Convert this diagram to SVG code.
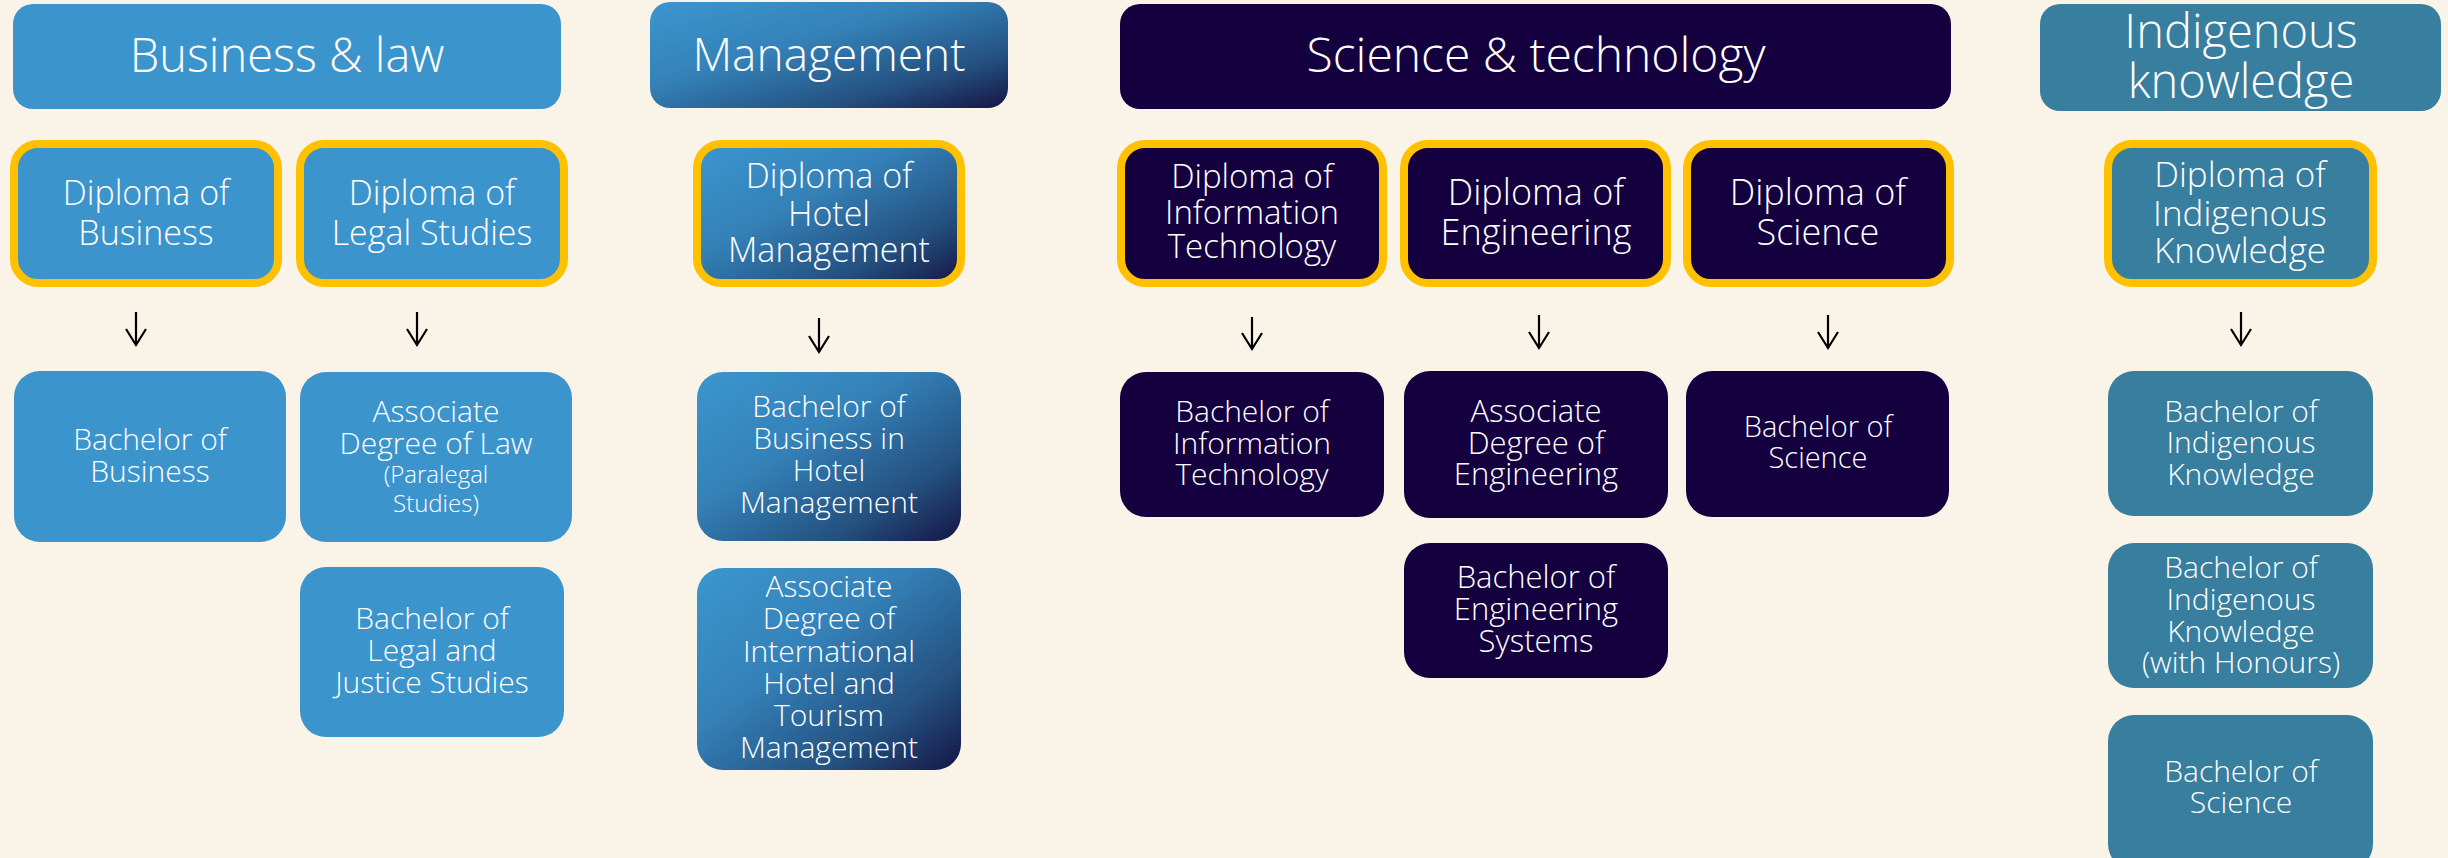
<svg xmlns="http://www.w3.org/2000/svg" width="2448" height="858" viewBox="0 0 2448 858">
<defs>
<linearGradient id="mg" x1="0" y1="0" x2="1" y2="1">
<stop offset="0" stop-color="#3c96cf"/>
<stop offset="0.4" stop-color="#3481b8"/>
<stop offset="0.75" stop-color="#24507f"/>
<stop offset="1" stop-color="#151545"/>
</linearGradient>
<marker id="ah" markerWidth="24" markerHeight="24" refX="20" refY="12" orient="auto" markerUnits="userSpaceOnUse" viewBox="0 0 24 24">
<path d="M4 2 L20 12 L4 22" fill="none" stroke="#000" stroke-width="2.2"/>
</marker>
<style>
.bl{fill:#3c94cd}
.mg{fill:url(#mg)}
.dk{fill:#14003f}
.tl{fill:#387e9e}
.dip{stroke:#ffc000;stroke-width:8}
text{fill:#ffffff;font-family:"Open Sans","Noto Sans","Liberation Sans",sans-serif;text-anchor:middle;font-weight:300}
.h{font-size:46px}
.d{font-size:34px}
.b{font-size:30px}
.s{font-size:24px}
.conn line{stroke:#000;stroke-width:2.2}
</style>
</defs>
<rect x="0" y="0" width="2448" height="858" fill="#faf3e8"/>

<!-- Headers -->
<g id="h-business">
<rect class="bl" x="13" y="4" width="548" height="105" rx="20"/>
<text class="h" x="287" y="72" style="font-size:47px">Business &amp; law</text>
</g>
<g id="h-management">
<rect class="mg" x="650" y="2" width="358" height="106" rx="20"/>
<text class="h" x="829" y="71">Management</text>
</g>
<g id="h-science">
<rect class="dk" x="1120" y="4" width="831" height="105" rx="20"/>
<text class="h" x="1536" y="72" style="font-size:48px">Science &amp; technology</text>
</g>
<g id="h-indigenous">
<rect class="tl" x="2040" y="4" width="401" height="107" rx="20"/>
<text class="h" style="font-size:47px"><tspan x="2241" y="48">Indigenous</tspan><tspan x="2241" y="98">knowledge</tspan></text>
</g>

<!-- Diplomas -->
<g id="d-business">
<rect class="bl dip" x="14" y="144" width="264" height="139" rx="24"/>
<text class="d"><tspan x="146" y="205">Diploma of</tspan><tspan x="146" y="245">Business</tspan></text>
</g>
<g id="d-legal">
<rect class="bl dip" x="300" y="144" width="264" height="139" rx="24"/>
<text class="d"><tspan x="432" y="205">Diploma of</tspan><tspan x="432" y="245">Legal Studies</tspan></text>
</g>
<g id="d-hotel">
<rect class="mg dip" x="697" y="144" width="264" height="139" rx="24"/>
<text class="d"><tspan x="829" y="188">Diploma of</tspan><tspan x="829" y="226">Hotel</tspan><tspan x="829" y="262">Management</tspan></text>
</g>
<g id="d-it">
<rect class="dk dip" x="1121" y="144" width="262" height="139" rx="24"/>
<text class="d" style="font-size:33px"><tspan x="1252" y="188">Diploma of</tspan><tspan x="1252" y="224">Information</tspan><tspan x="1252" y="258">Technology</tspan></text>
</g>
<g id="d-eng">
<rect class="dk dip" x="1404" y="144" width="263" height="139" rx="24"/>
<text class="d" style="font-size:36px"><tspan x="1536" y="205">Diploma of</tspan><tspan x="1536" y="245">Engineering</tspan></text>
</g>
<g id="d-sci">
<rect class="dk dip" x="1687" y="144" width="263" height="139" rx="24"/>
<text class="d" style="font-size:36px"><tspan x="1818" y="205">Diploma of</tspan><tspan x="1818" y="245">Science</tspan></text>
</g>
<g id="d-ik">
<rect class="tl dip" x="2108" y="144" width="265" height="139" rx="24"/>
<text class="d" style="font-size:35px"><tspan x="2240" y="187">Diploma of</tspan><tspan x="2240" y="226">Indigenous</tspan><tspan x="2240" y="263">Knowledge</tspan></text>
</g>

<!-- Connectors -->
<g id="connectors" class="conn">
<line x1="136" y1="312" x2="136" y2="345" marker-end="url(#ah)"/>
<line x1="417" y1="312" x2="417" y2="345" marker-end="url(#ah)"/>
<line x1="819" y1="318" x2="819" y2="352" marker-end="url(#ah)"/>
<line x1="1252" y1="317" x2="1252" y2="349" marker-end="url(#ah)"/>
<line x1="1539" y1="315" x2="1539" y2="348" marker-end="url(#ah)"/>
<line x1="1828" y1="315" x2="1828" y2="348" marker-end="url(#ah)"/>
<line x1="2241" y1="312" x2="2241" y2="345" marker-end="url(#ah)"/>
</g>

<!-- Degrees -->
<g id="b-business">
<rect class="bl" x="14" y="371" width="272" height="171" rx="26"/>
<text class="b"><tspan x="150" y="450">Bachelor of</tspan><tspan x="150" y="482">Business</tspan></text>
</g>
<g id="ad-law">
<rect class="bl" x="300" y="372" width="272" height="170" rx="26"/>
<text class="b"><tspan x="436" y="422">Associate</tspan><tspan x="436" y="454">Degree of Law</tspan><tspan class="s" x="436" y="483">(Paralegal</tspan><tspan class="s" x="436" y="512">Studies)</tspan></text>
</g>
<g id="b-legal">
<rect class="bl" x="300" y="567" width="264" height="170" rx="26"/>
<text class="b"><tspan x="432" y="629">Bachelor of</tspan><tspan x="432" y="661">Legal and</tspan><tspan x="432" y="693">Justice Studies</tspan></text>
</g>
<g id="b-hotel">
<rect class="mg" x="697" y="372" width="264" height="169" rx="26"/>
<text class="b"><tspan x="829" y="417">Bachelor of</tspan><tspan x="829" y="449">Business in</tspan><tspan x="829" y="481">Hotel</tspan><tspan x="829" y="513">Management</tspan></text>
</g>
<g id="ad-hotel">
<rect class="mg" x="697" y="568" width="264" height="202" rx="26"/>
<text class="b"><tspan x="829" y="597">Associate</tspan><tspan x="829" y="629">Degree of</tspan><tspan x="829" y="662">International</tspan><tspan x="829" y="694">Hotel and</tspan><tspan x="829" y="726">Tourism</tspan><tspan x="829" y="758">Management</tspan></text>
</g>
<g id="b-it">
<rect class="dk" x="1120" y="372" width="264" height="145" rx="26"/>
<text class="b"><tspan x="1252" y="422">Bachelor of</tspan><tspan x="1252" y="454">Information</tspan><tspan x="1252" y="485">Technology</tspan></text>
</g>
<g id="ad-eng">
<rect class="dk" x="1404" y="371" width="264" height="147" rx="26"/>
<text class="b" style="font-size:31px"><tspan x="1536" y="422">Associate</tspan><tspan x="1536" y="454">Degree of</tspan><tspan x="1536" y="485">Engineering</tspan></text>
</g>
<g id="b-engsys">
<rect class="dk" x="1404" y="543" width="264" height="135" rx="26"/>
<text class="b" style="font-size:31px"><tspan x="1536" y="588">Bachelor of</tspan><tspan x="1536" y="620">Engineering</tspan><tspan x="1536" y="652">Systems</tspan></text>
</g>
<g id="b-sci">
<rect class="dk" x="1686" y="371" width="263" height="146" rx="26"/>
<text class="b" style="font-size:29px"><tspan x="1818" y="437">Bachelor of</tspan><tspan x="1818" y="468">Science</tspan></text>
</g>
<g id="b-ik">
<rect class="tl" x="2108" y="371" width="265" height="145" rx="26"/>
<text class="b"><tspan x="2241" y="422">Bachelor of</tspan><tspan x="2241" y="453">Indigenous</tspan><tspan x="2241" y="485">Knowledge</tspan></text>
</g>
<g id="b-ik-hons">
<rect class="tl" x="2108" y="543" width="265" height="145" rx="26"/>
<text class="b"><tspan x="2241" y="578">Bachelor of</tspan><tspan x="2241" y="610">Indigenous</tspan><tspan x="2241" y="642">Knowledge</tspan><tspan x="2241" y="673">(with Honours)</tspan></text>
</g>
<g id="b-sci-ik">
<rect class="tl" x="2108" y="715" width="265" height="155" rx="26"/>
<text class="b"><tspan x="2241" y="782">Bachelor of</tspan><tspan x="2241" y="813">Science</tspan></text>
</g>
</svg>
